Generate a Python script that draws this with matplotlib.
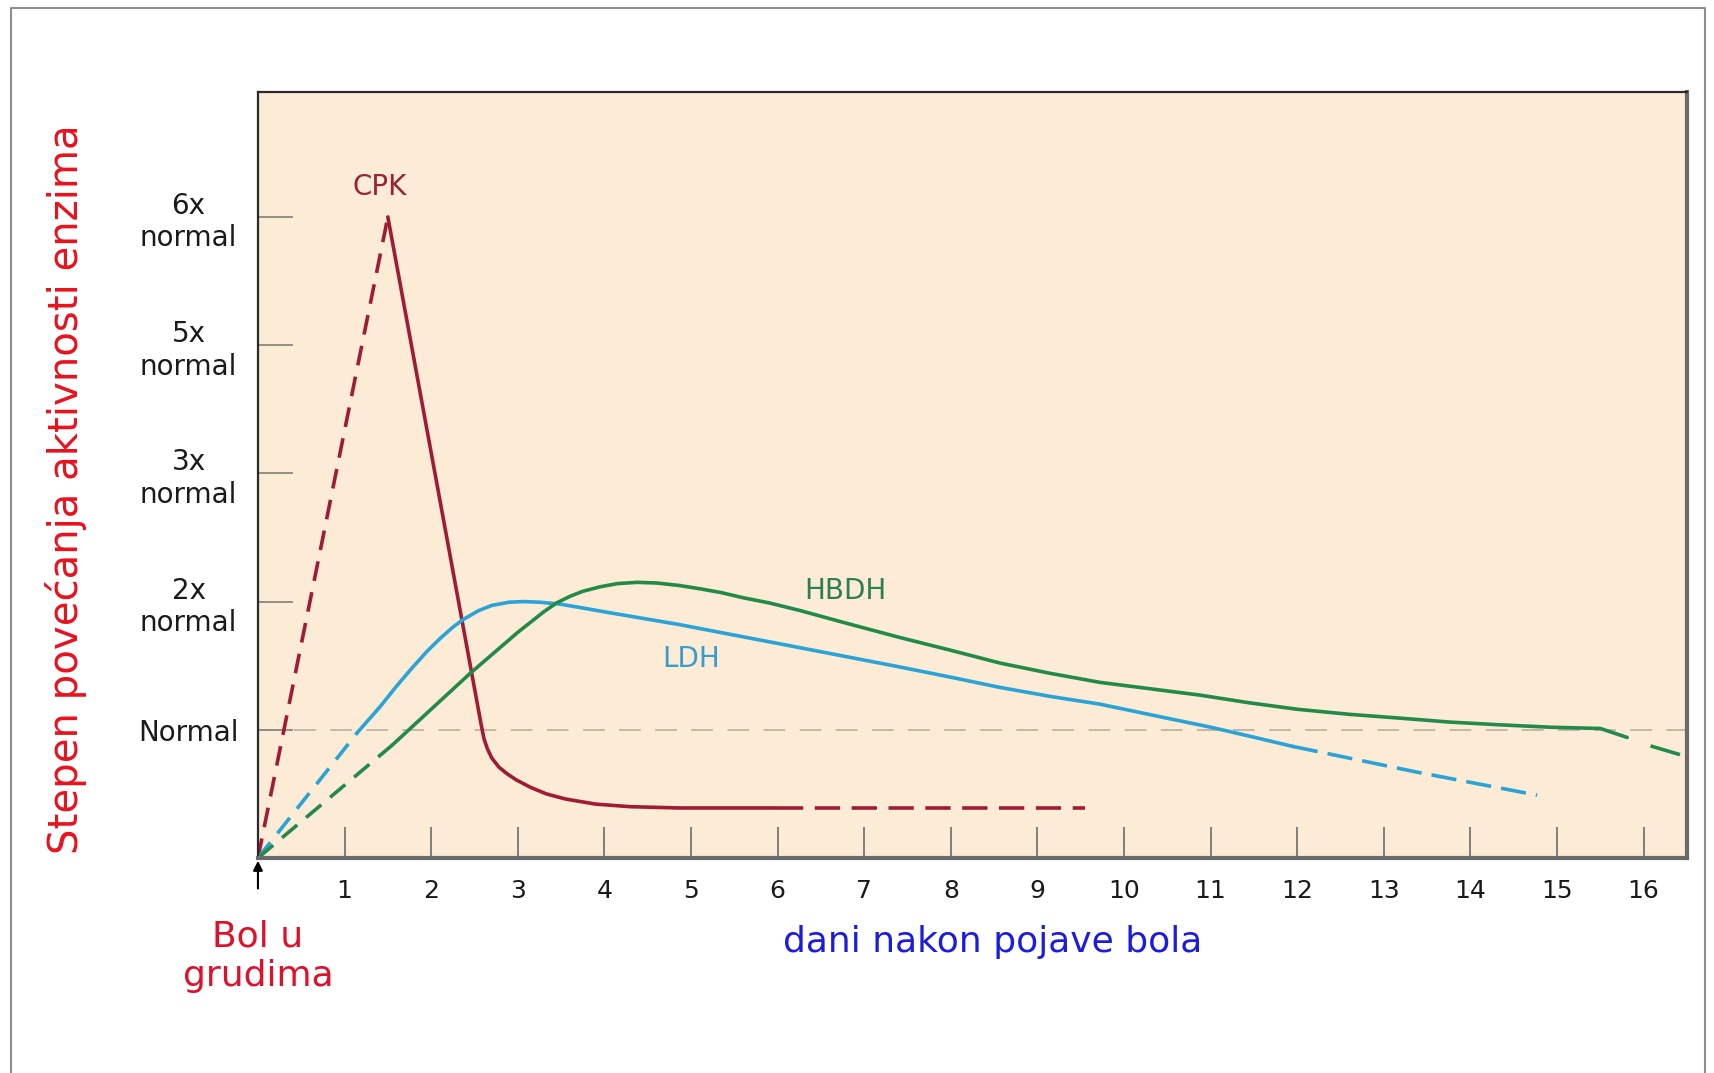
import matplotlib
matplotlib.use('Agg')
import matplotlib.pyplot as plt
from matplotlib.lines import Line2D
from matplotlib.transforms import blended_transform_factory

# days after onset of chest pain / level in multiples of normal
cpk_rise_x = [0, 1.5]
cpk_rise_y = [0, 5.0]
cpk_x = [1.5, 2.58, 2.61, 2.65, 2.70, 2.78, 2.87, 2.98, 3.15, 3.33, 3.55, 3.9,
         4.3, 4.87, 6.0]
cpk_y = [5.0, 1.03, 0.93, 0.85, 0.78, 0.71, 0.66, 0.61, 0.55, 0.50, 0.46, 0.42,
         0.40, 0.39, 0.39]
cpk_tail_x = [6.0, 9.55]
cpk_tail_y = [0.39, 0.39]

ldh_rise_x = [0, 1.15]
ldh_rise_y = [0, 0.98]
ldh_x = [1.15, 1.41, 1.6, 1.79, 1.95, 2.1, 2.25, 2.37, 2.55, 2.7, 2.9, 3.06,
         3.25, 3.49, 3.75, 4.0, 4.87, 5.1, 6.26, 7.41, 8.0, 8.57, 9.15, 9.72,
         10.5, 11.0, 11.45, 11.95]
ldh_y = [0.98, 1.18, 1.34, 1.49, 1.61, 1.71, 1.80, 1.86, 1.93, 1.97, 1.995, 2.0,
         1.995, 1.98, 1.95, 1.92, 1.82, 1.79, 1.64, 1.49, 1.41, 1.33, 1.26, 1.20,
         1.09, 1.02, 0.95, 0.87]
ldh_tail_x = [11.95, 13.38, 14.77]
ldh_tail_y = [0.87, 0.67, 0.49]

hbdh_rise_x = [0, 1.55]
hbdh_rise_y = [0, 0.88]
hbdh_x = [1.55, 2.45, 3.0, 3.3, 3.45, 3.6, 3.75, 3.95, 4.15, 4.38, 4.6, 4.87,
          5.1, 5.35, 5.6, 5.9, 6.26, 6.8, 7.41, 8.0, 8.57, 9.15, 9.72, 10.3,
          10.88, 11.45, 12.0, 12.61, 13.2, 13.76, 14.3, 14.92, 15.5, 15.81]
hbdh_y = [0.88, 1.44, 1.76, 1.92, 1.99, 2.04, 2.08, 2.115, 2.14, 2.15, 2.145, 2.125,
          2.10, 2.07, 2.03, 1.99, 1.93, 1.83, 1.72, 1.62, 1.52, 1.44, 1.37, 1.32,
          1.27, 1.21, 1.16, 1.12, 1.09, 1.06, 1.04, 1.02, 1.01, 0.94]
hbdh_tail_x = [16.1, 16.4]
hbdh_tail_y = [0.87, 0.81]

y_ticks = [1, 2, 3, 4, 5]
y_labels = ['Normal', '2x\nnormal', '3x\nnormal', '5x\nnormal', '6x\nnormal']
x_ticks = list(range(1, 17))

c_cpk = '#a01c36'
c_ldh = '#2aa3d6'
c_hbdh = '#238a4a'

fig = plt.figure(figsize=(17.14, 10.73), dpi=100)
ax = fig.add_axes([0.1505, 0.2004, 0.8337, 0.7139])
ax.set_facecolor('#fcebd5')
ax.set_xlim(0, 16.5)
ax.set_ylim(0, 5.975)

# normal level
ax.axhline(1, color='#bdb3a6', lw=1.3, dashes=(12, 8), zorder=1)

lw = 2.6
kw = dict(lw=lw, solid_joinstyle='round', solid_capstyle='round')
ax.plot(cpk_rise_x, cpk_rise_y, color=c_cpk, lw=lw, dashes=(5.5, 3.2))
ax.plot(cpk_x, cpk_y, color=c_cpk, **kw)
ax.plot(cpk_tail_x, cpk_tail_y, color=c_cpk, lw=lw, dashes=(7, 3.2))

ax.plot(ldh_rise_x, ldh_rise_y, color=c_ldh, lw=lw, dashes=(5.5, 3.2))
ax.plot(ldh_x, ldh_y, color=c_ldh, **kw)
ax.plot(ldh_tail_x, ldh_tail_y, color=c_ldh, lw=lw, dashes=(7, 2.8))

ax.plot(hbdh_rise_x, hbdh_rise_y, color=c_hbdh, lw=lw, dashes=(5.5, 3.2))
ax.plot(hbdh_x, hbdh_y, color=c_hbdh, **kw)
ax.plot(hbdh_tail_x, hbdh_tail_y, color=c_hbdh, lw=lw)

# curve names
ax.text(1.40, 5.23, 'CPK', color='#9b2335', fontsize=20, ha='center', va='center')
ax.text(5.0, 1.55, 'LDH', color='#3a9ccc', fontsize=20, ha='center', va='center')
ax.text(6.78, 2.08, 'HBDH', color='#2e8050', fontsize=20, ha='center', va='center')

# ticks
ax.set_yticks(y_ticks)
ax.set_yticklabels(y_labels)
for lbl in ax.get_yticklabels():
    lbl.set_ha('center')
    lbl.set_multialignment('center')
ax.tick_params(axis='y', direction='in', length=25, width=1.4, color='#8f8f88',
               pad=50, labelsize=20, labelcolor='#1a1a1a')
ax.set_xticks(x_ticks)
ax.set_xticklabels([str(t) for t in x_ticks])
ax.tick_params(axis='x', direction='in', length=22, width=1.4, color='#7f7f7f',
               pad=15, labelsize=18, labelcolor='#1a1a1a')

for s in ['left', 'top']:
    ax.spines[s].set_color('#2b2b2b')
    ax.spines[s].set_linewidth(1.6)
for s in ['right', 'bottom']:
    ax.spines[s].set_color('#6a6a6a')
    ax.spines[s].set_linewidth(3)

# axis titles
ax.set_ylabel('Stepen povećanja aktivnosti enzima', color='#e8121e', fontsize=29)
ax.yaxis.set_label_coords(-0.1344, 0.482)
ax.yaxis.label.set_va('center')
ax.set_xlabel('dani nakon pojave bola', color='#1c1ce0', fontsize=26)
ax.xaxis.set_label_coords(0.514, -0.110)
ax.xaxis.label.set_va('center')

trans = blended_transform_factory(ax.transData, ax.transAxes)
ax.text(0, -0.128, 'Bol u\ngrudima', transform=trans, color='#e0102a', fontsize=26,
        ha='center', va='center', multialignment='center', clip_on=False)

# arrow marking onset of pain
ax.annotate('', xy=(0, 0), xytext=(0, -24), textcoords='offset points',
            arrowprops=dict(arrowstyle='-|>', color='black', lw=1.5, mutation_scale=14),
            annotation_clip=False)

# outer frame
fx = [11 / 1714, 11 / 1714, 1705 / 1714, 1705 / 1714]
fy = [0, 1 - 8 / 1073, 1 - 8 / 1073, 0]
fig.add_artist(Line2D(fx, fy, transform=fig.transFigure, color='#8c8c8c', lw=1.5))

fig.savefig('out.png', dpi=100, facecolor='white')
